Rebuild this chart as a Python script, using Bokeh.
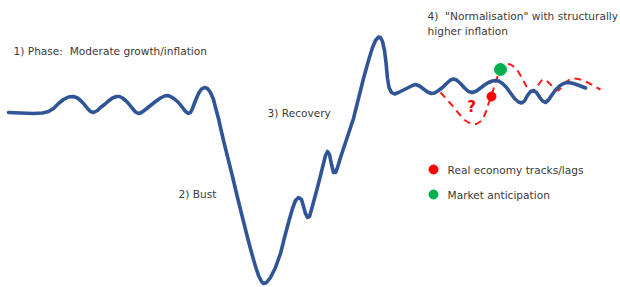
from bokeh.plotting import figure
from bokeh.models import Range1d
from bokeh.core.properties import value
from bokeh.embed import file_html
from bokeh.resources import INLINE

# Main cycle curve (x, depth from top)
cycle_x = [8, 20, 33, 42, 48, 53, 58, 63, 68, 73, 77, 80, 83, 87, 90, 93, 97, 100, 104, 108,
           112, 116, 119, 122, 125, 128, 132, 135, 138, 141, 145, 150, 155, 160, 164, 167, 170,
           174, 178, 182, 185, 188, 190, 192, 195, 198, 201, 204, 207, 210, 213, 215, 218, 220,
           223, 227, 232, 237, 242, 247, 251, 255, 258, 261, 263, 266, 270, 275, 280, 284, 288,
           292, 295, 298, 301, 303, 305, 307, 309, 311, 314, 318, 322, 325, 327, 329, 331, 333,
           335, 337, 340, 344, 348, 353, 358, 363, 368, 372, 375, 378, 380, 382, 384, 385.5, 387,
           388.5, 391, 394, 398, 403, 408, 412, 415, 419, 423, 427, 431, 434, 438, 442, 446, 450,
           453, 456, 460, 464, 468, 472, 476, 480, 484, 488, 492, 495, 498, 502, 506, 510, 514,
           518, 521, 524, 527, 530, 533, 536, 539, 542, 545, 548, 551, 555, 559, 563, 567, 571,
           576, 580, 585]
cycle_y = [112, 112.5, 113, 112.5, 111, 108, 103, 99, 96.5, 96, 97.5, 100, 103, 108, 111, 112,
           110, 107, 104, 100.5, 97.5, 96, 96, 97.5, 100, 103, 108, 111.5, 113, 112, 109, 105,
           101, 97.5, 95.5, 95, 96, 98.5, 102, 107, 111, 113, 112, 108, 100, 93, 88.5, 87, 88, 92,
           99, 107, 118, 127, 140, 156, 176, 197, 217, 237, 252, 266, 275, 281, 283, 282, 277,
           267, 253, 237, 222, 208, 200, 197, 199, 206, 213, 217, 216, 209, 198, 183, 167, 155,
           151, 154, 164, 172, 172, 167, 157, 145, 133, 118, 98, 78, 60, 47, 40, 36.5, 37, 41, 50,
           62, 78, 87, 92, 93.5, 92, 89.5, 87, 85, 84, 85.5, 88.5, 91.5, 93, 92.5, 90, 87, 83,
           79.5, 78.5, 79.5, 83, 87.5, 91, 92, 90.5, 87.5, 84.5, 82, 80.5, 80, 80.5, 83, 87, 92.5,
           98, 101.5, 102.5, 100.5, 95, 91, 90, 92, 96.5, 100.5, 102, 99.5, 95, 89.5, 85.5, 83,
           82, 82.5, 84, 85.5, 87.5]

# Alternative path (red dashed)
alt_x = [440, 445, 450, 455, 460, 464, 468, 472, 476, 480, 483, 486, 488, 490, 492, 494, 496, 498,
         500, 503, 507, 510, 514, 517, 520, 523, 526, 529, 532, 535, 538, 541, 543, 546, 549, 552,
         555, 558, 561, 565, 569, 573, 578, 583, 588, 593, 597, 600]
alt_y = [92, 97.5, 103, 109, 115, 119.5, 122, 123.5, 123.5, 121, 117, 110, 103, 98, 92, 85, 79, 73,
         68, 65, 63.5, 64, 66.5, 70, 75, 80.5, 86, 90, 92, 88, 84, 80, 79, 80, 83, 86, 89, 90, 87,
         82, 79, 78, 78.5, 80, 82.5, 85, 87.5, 89]

# Marker points
real_pt = (491, 96)
market_pt = (500, 69)

phase_labels = ["1) Phase:\u00a0 Moderate growth/inflation", "2) Bust", "3) Recovery",
                "4)\u00a0 \"Normalisation\" with structurally", "higher inflation"]
legend_labels = ["Real economy tracks/lags", "Market anticipation"]

p = figure(width=620, height=287, x_range=Range1d(0, 620), y_range=Range1d(287, 0),
           output_backend="svg", toolbar_location=None, min_border=0)
p.axis.visible = False
p.grid.visible = False
p.outline_line_color = None
p.background_fill_color = "white"
p.border_fill_color = "white"

p.line(alt_x, alt_y, line_color="#FF1A1A", line_width=2, line_dash="7 5")
p.line(cycle_x, cycle_y, line_color="#2F5597", line_width=3.6, line_join="round", line_cap="round")

p.scatter([real_pt[0]], [real_pt[1]], size=9, color="#FF0000")
p.scatter([market_pt[0]], [market_pt[1]], size=12, color="#00B050")

font = value("DejaVu Sans")
tc = "#3A3A3A"
fs = "10.6px"
p.text(x=[13], y=[50], text=[phase_labels[0]], text_font=font, text_font_size=fs,
       text_color=tc, text_baseline="middle")
p.text(x=[178], y=[193], text=[phase_labels[1]], text_font=font, text_font_size=fs,
       text_color=tc, text_baseline="middle")
p.text(x=[267], y=[112], text=[phase_labels[2]], text_font=font, text_font_size=fs,
       text_color=tc, text_baseline="middle")
p.text(x=[427, 427], y=[15, 30], text=phase_labels[3:5], text_font=font, text_font_size=fs,
       text_color=tc, text_baseline="middle")

p.text(x=[471], y=[106], text=["?"], text_font=font, text_font_size="15px",
       text_font_style="bold", text_color="#FF0000", text_baseline="middle", text_align="center")

p.scatter([433, 433], [169, 194], size=9, color=["#FF0000", "#00B050"])
p.text(x=[447, 447], y=[169, 194], text=legend_labels, text_font=font, text_font_size=fs,
       text_color=tc, text_baseline="middle")

open("out.html", "w").write(file_html(p, INLINE))
